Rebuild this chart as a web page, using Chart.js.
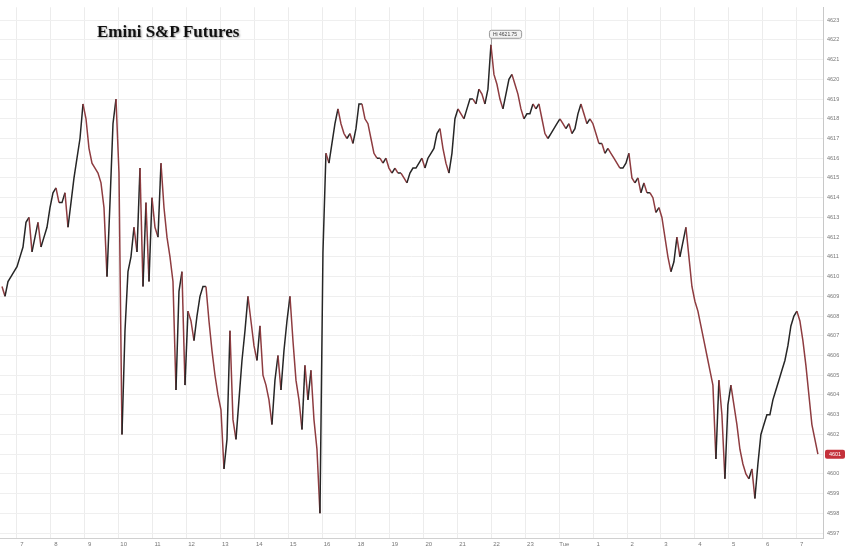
<!DOCTYPE html>
<html>
<head>
<meta charset="utf-8">
<script src="https://cdn.jsdelivr.net/npm/chart.js@4.4.0/dist/chart.umd.min.js"></script>
<style>
  html, body { margin: 0; padding: 0; background: #fff; }
  #wrap { position: relative; width: 848px; height: 551px; }
  #title {
    position: absolute; left: 97px; top: 22px;
    font-family: "Liberation Serif", "DejaVu Serif", serif;
    font-weight: bold; font-size: 17px; line-height: 20px; color: #111;
    text-shadow: 1px 1px 2px rgba(0,0,0,0.35);
  }
</style>
</head>
<body>
<div id="wrap">
  <canvas id="esChart" width="848" height="551"></canvas>
  <div id="title">Emini S&amp;P Futures</div>
</div>
<script>
// hour labels along the bottom (17h is skipped: session break)
var hourLabels = ['7', '8', '9', '10', '11', '12', '13', '14', '15', '16', '18', '19', '20', '21', '22', '23', 'Tue', '1', '2', '3', '4', '5', '6', '7'];

// first bar position (in hour slots from the "7" gridline) and bar spacing
var firstSlot = -0.4425;
var slotStep = 0.0885;

// Emini close prices
var prices = [
  4609.5, 4609.0, 4609.75, 4610.0, 4610.25, 4610.5, 4611.0, 4611.5, 4612.75, 4613.0, 4611.25, 4612.0,
  4612.75, 4611.5, 4612.0, 4612.5, 4613.5, 4614.25, 4614.5, 4613.75, 4613.75, 4614.25, 4612.5, 4613.75,
  4615.0, 4616.0, 4617.0, 4618.75, 4618.0, 4616.5, 4615.75, 4615.5, 4615.25, 4614.75, 4613.5, 4610.0,
  4613.75, 4617.75, 4619.0, 4615.25, 4602.0, 4607.25, 4610.25, 4611.0, 4612.5, 4611.25, 4615.5, 4609.5,
  4613.75, 4609.75, 4614.0, 4612.5, 4612.0, 4615.75, 4613.5, 4612.0, 4611.0, 4609.75, 4604.25, 4609.25,
  4610.25, 4604.5, 4608.25, 4607.75, 4606.75, 4608.0, 4609.0, 4609.5, 4609.5, 4607.75, 4606.25, 4605.0,
  4604.0, 4603.25, 4600.25, 4601.75, 4607.25, 4602.75, 4601.75, 4603.75, 4605.75, 4607.25, 4609.0, 4607.75,
  4606.5, 4605.75, 4607.5, 4605.0, 4604.5, 4603.75, 4602.5, 4604.75, 4606.0, 4604.25, 4606.25, 4607.75,
  4609.0, 4606.75, 4604.75, 4603.75, 4602.25, 4605.5, 4603.75, 4605.25, 4602.75, 4601.25, 4598.0, 4611.25,
  4616.25, 4615.75, 4616.75, 4617.75, 4618.5, 4617.75, 4617.25, 4617.0, 4617.25, 4616.75, 4617.5, 4618.75,
  4618.75, 4618.0, 4617.75, 4617.0, 4616.25, 4616.0, 4616.0, 4615.75, 4616.0, 4615.5, 4615.25, 4615.5,
  4615.25, 4615.25, 4615.0, 4614.75, 4615.25, 4615.5, 4615.5, 4615.75, 4616.0, 4615.5, 4616.0, 4616.25,
  4616.5, 4617.25, 4617.5, 4616.5, 4615.75, 4615.25, 4616.25, 4618.0, 4618.5, 4618.25, 4618.0, 4618.5,
  4619.0, 4619.0, 4618.75, 4619.5, 4619.25, 4618.75, 4619.5, 4621.75, 4620.25, 4619.75, 4619.0, 4618.5,
  4619.25, 4620.0, 4620.25, 4619.75, 4619.25, 4618.5, 4618.0, 4618.25, 4618.25, 4618.75, 4618.5, 4618.75,
  4618.0, 4617.25, 4617.0, 4617.25, 4617.5, 4617.75, 4618.0, 4617.75, 4617.5, 4617.75, 4617.25, 4617.5,
  4618.25, 4618.75, 4618.25, 4617.75, 4618.0, 4617.75, 4617.25, 4616.75, 4616.75, 4616.25, 4616.5, 4616.25,
  4616.0, 4615.75, 4615.5, 4615.5, 4615.75, 4616.25, 4615.0, 4614.75, 4615.0, 4614.25, 4614.75, 4614.25,
  4614.25, 4614.0, 4613.25, 4613.5, 4613.0, 4612.0, 4611.0, 4610.25, 4610.75, 4612.0, 4611.0, 4611.75,
  4612.5, 4611.0, 4609.5, 4608.75, 4608.25, 4607.5, 4606.75, 4606.0, 4605.25, 4604.5, 4600.75, 4604.75,
  4603.0, 4599.75, 4603.5, 4604.5, 4603.5, 4602.5, 4601.25, 4600.5, 4600.0, 4599.75, 4600.25, 4598.75,
  4600.5, 4602.0, 4602.5, 4603.0, 4603.0, 4603.75, 4604.25, 4604.75, 4605.25, 4605.75, 4606.5, 4607.5,
  4608.0, 4608.25, 4607.75, 4606.75, 4605.5, 4604.0, 4602.5, 4601.75, 4601.0
];

// price gridlines on the right axis
var priceTicks = [];
for (var p = 4597; p <= 4623; p++) priceTicks.push(p);

var upColor = '#262626';
var downColor = '#8e3c40';

var points = prices.map(function(v, i){
     return { x: firstSlot + i * slotStep, y: v };
});

// Hi box + last price box
var marksPlugin = {
     id: 'marks',
     afterDraw: function(chart){
          var ctx = chart.ctx;
          var xs = chart.scales.x, ys = chart.scales.y;

          var hi = Math.max.apply(null, prices);
          var hiIdx = prices.indexOf(hi);
          var hx = xs.getPixelForValue(points[hiIdx].x);
          var hy = ys.getPixelForValue(hi);
          var label = 'Hi ' + hi.toFixed(2);
          ctx.save();
          ctx.font = '5px "Liberation Sans", Arial, sans-serif';
          var w = ctx.measureText(label).width + 8;
          var bx = hx - 2, by = hy - 15, bh = 8;
          ctx.strokeStyle = '#9a9a9a';
          ctx.lineWidth = 1;
          ctx.beginPath();
          ctx.moveTo(hx + 0.5, by + bh);
          ctx.lineTo(hx + 0.5, hy);
          ctx.stroke();
          ctx.fillStyle = '#f2f2f2';
          ctx.beginPath();
          ctx.roundRect(bx + 0.5, by + 0.5, w, bh, 2);
          ctx.fill();
          ctx.stroke();
          ctx.fillStyle = '#444';
          ctx.textBaseline = 'middle';
          ctx.fillText(label, bx + 4, by + bh / 2 + 1);

          var last = prices[prices.length - 1];
          var ly = ys.getPixelForValue(last);
          var lx = chart.chartArea.right + 2;
          ctx.fillStyle = '#c4313b';
          ctx.beginPath();
          ctx.roundRect(lx, ly - 4.5, 20, 9, 2);
          ctx.fill();
          ctx.fillStyle = '#fff';
          ctx.font = '5.5px "Liberation Sans", Arial, sans-serif';
          ctx.textAlign = 'center';
          ctx.fillText(last.toFixed(0), lx + 10, ly + 0.5);
          ctx.restore();
     }
};

var ctx = document.getElementById('esChart').getContext('2d');

new Chart(ctx, {
     type: 'line',
     data: {
          datasets: [
               {
                    label: 'Emini S&P Futures',
                    data: points,
                    borderColor: upColor,
                    borderWidth: 1.5,
                    pointRadius: 0,
                    tension: 0,
                    fill: false,
                    segment: {
                         borderColor: function(c){
                              return c.p1.parsed.y < c.p0.parsed.y ? downColor : upColor;
                         }
                    }
               }
          ]
     },
     options: {
          responsive: false,
          animation: false,
          layout: { padding: 0 },
          plugins: {
               legend: false,
               tooltip: { enabled: false }
          },
          scales: {
               x: {
                    type: 'linear',
                    min: -0.5015,
                    max: 23.78,
                    afterBuildTicks: function(scale){
                         scale.ticks = hourLabels.map(function(l, i){ return { value: i }; });
                    },
                    afterFit: function(scale){ scale.height = 13; },
                    grid: { color: '#ececec', tickLength: 0 },
                    border: { color: '#d0d0d0' },
                    ticks: {
                         autoSkip: false,
                         maxRotation: 0,
                         labelOffset: 5,
                         padding: 3,
                         color: '#777',
                         font: { size: 6, family: 'Liberation Sans' },
                         callback: function(v){ return hourLabels[v]; }
                    }
               },
               y: {
                    position: 'right',
                    min: 4596.75,
                    max: 4623.65,
                    afterBuildTicks: function(scale){
                         scale.ticks = priceTicks.map(function(v){ return { value: v }; });
                    },
                    afterFit: function(scale){ scale.width = 25; },
                    grid: { color: '#efefef', tickLength: 0 },
                    border: { color: '#c8c8c8' },
                    ticks: {
                         padding: 4,
                         color: '#777',
                         font: { size: 5.5, family: 'Liberation Sans' },
                         callback: function(v){ return v; }
                    }
               }
          }
     },
     plugins: [marksPlugin]
});
</script>
</body>
</html>
